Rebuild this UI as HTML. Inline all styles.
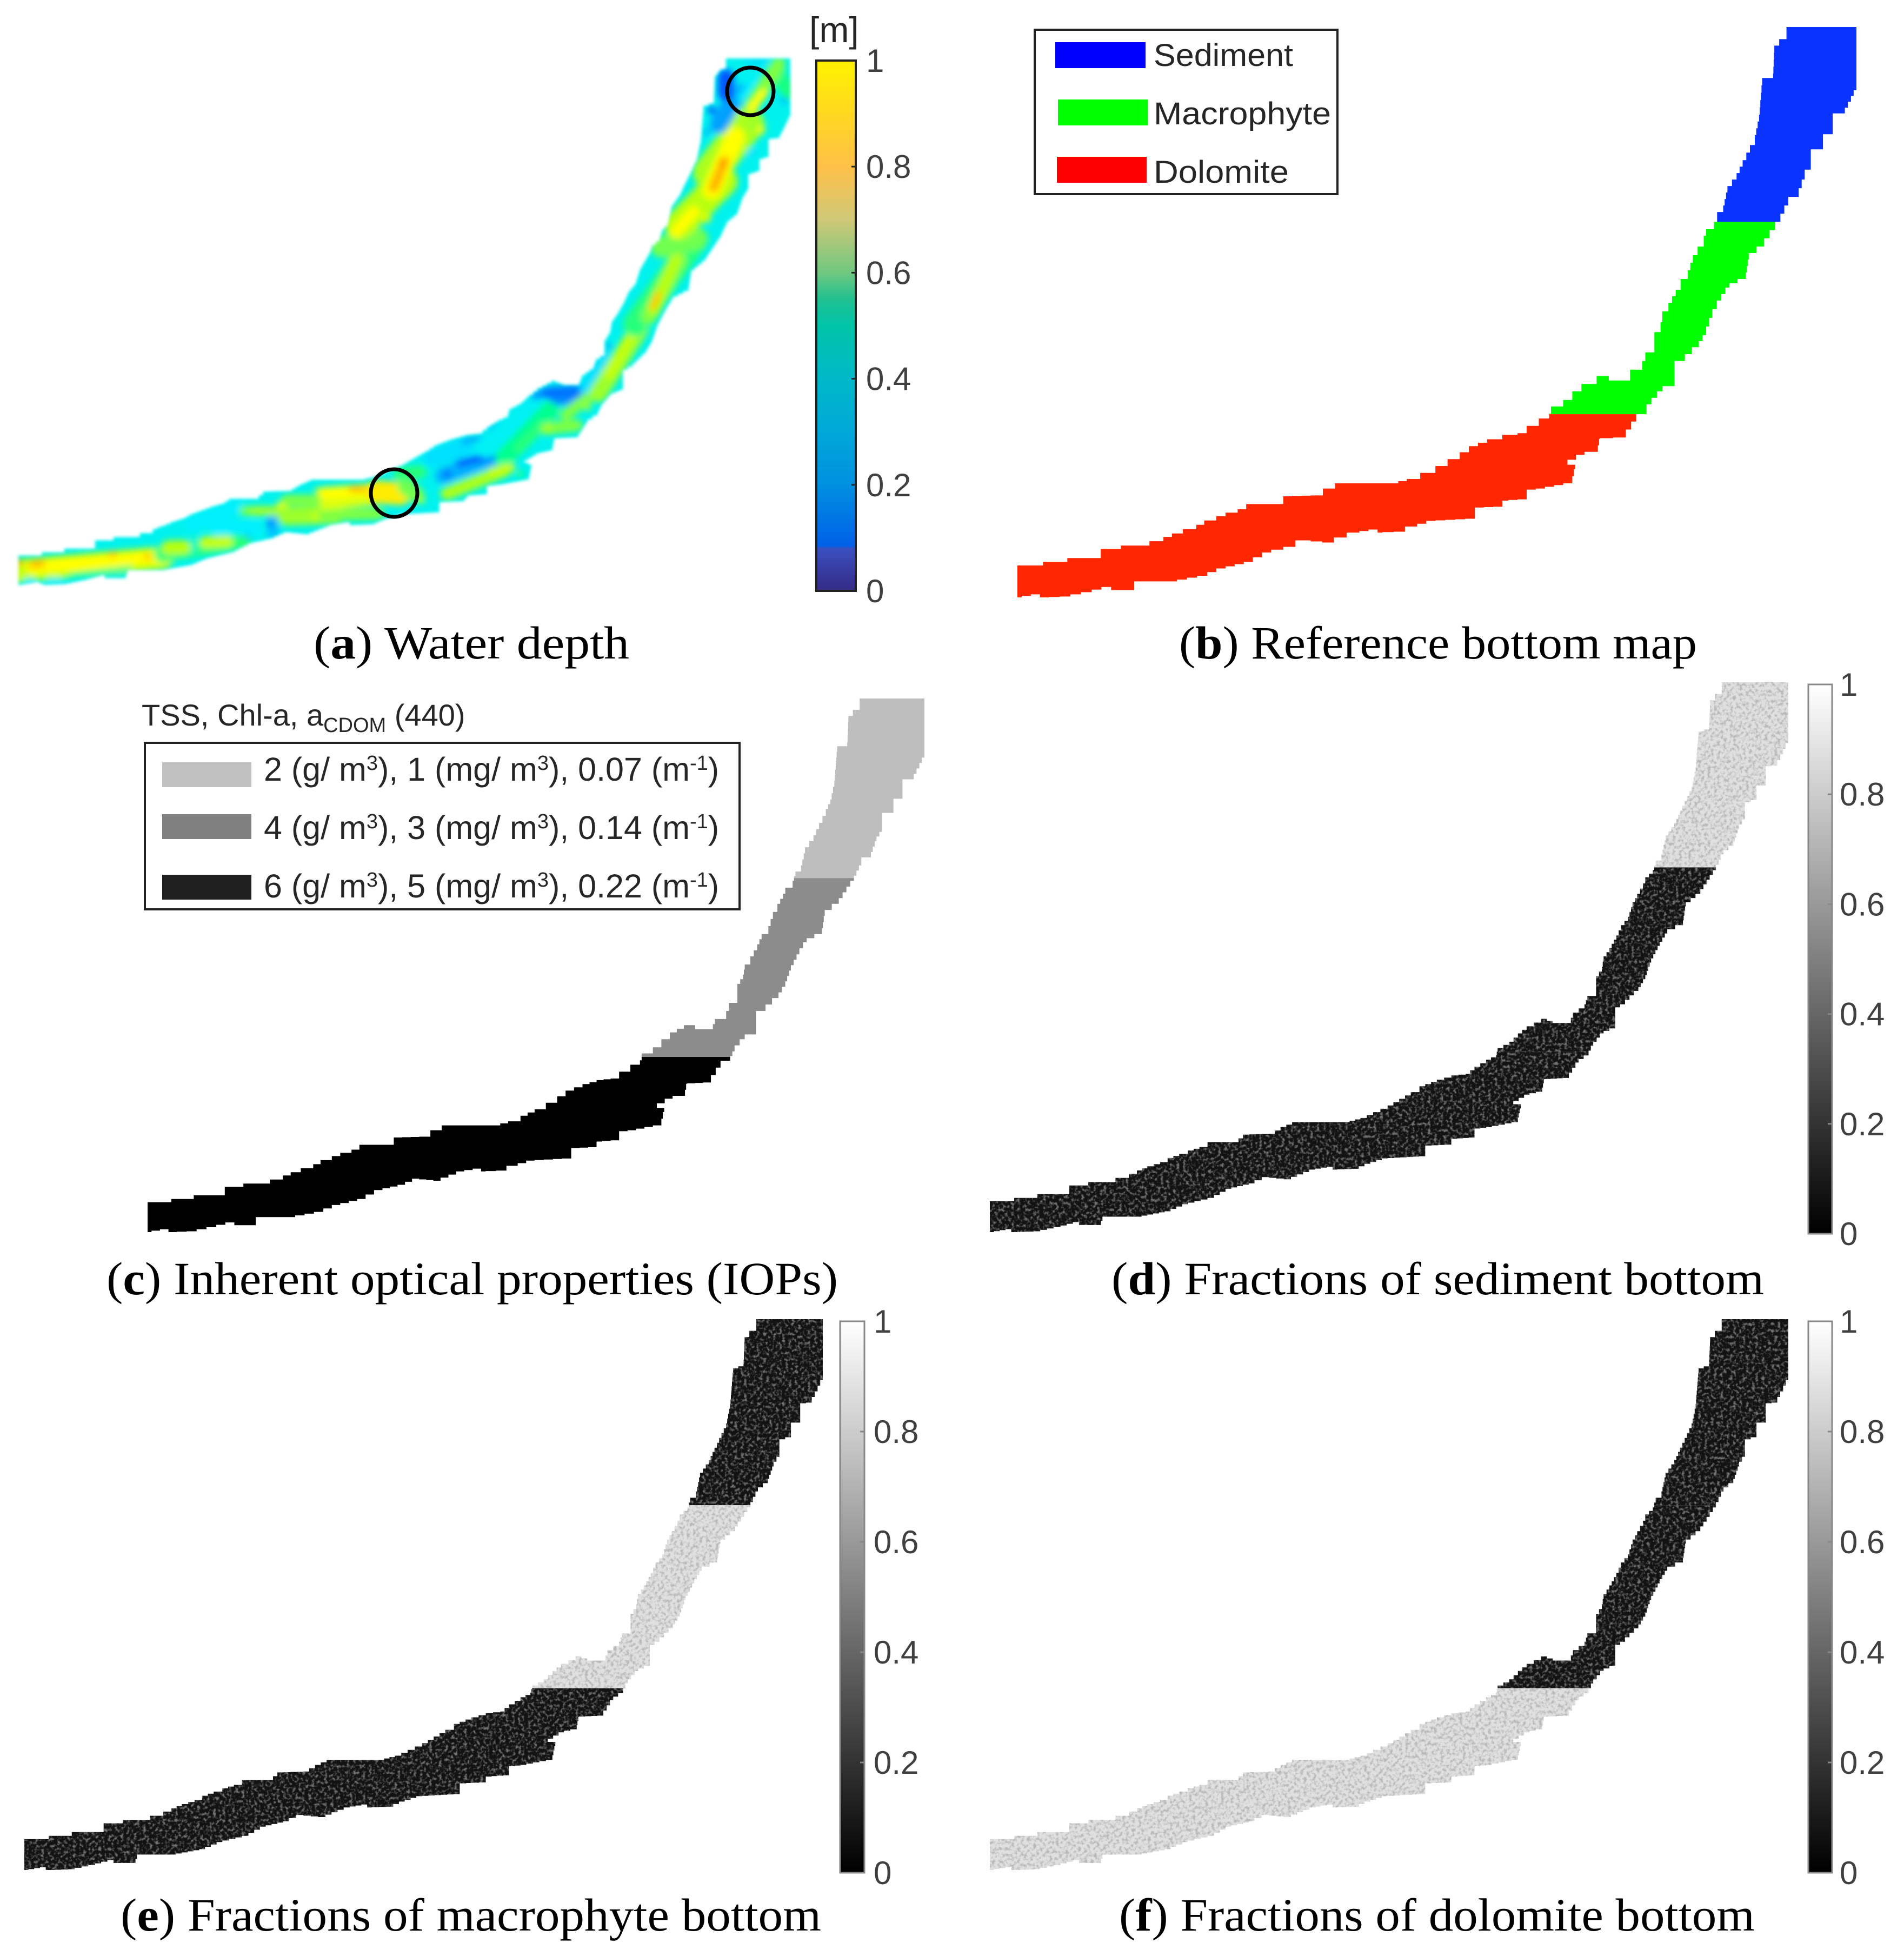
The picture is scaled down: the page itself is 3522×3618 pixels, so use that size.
<!DOCTYPE html>
<html lang="en">
<head>
<meta charset="utf-8">
<title>Water depth and bottom fraction maps</title>
<style>
html,body{margin:0;padding:0;background:#fff}
svg{display:block}
.cap{font-family:"Liberation Serif",serif;font-size:86px;fill:#000}
.leg{font-family:"Liberation Sans",sans-serif;font-size:58px;fill:#262626}
.iop{font-size:61px}
.sup{font-size:38px}
.tick{font-family:"Liberation Sans",sans-serif;font-size:60px;fill:#404040}
</style>
</head>
<body>
<svg id="fig" xmlns="http://www.w3.org/2000/svg" width="3522" height="3618" viewBox="0 0 3522 3618">
<defs>
<filter id="speckle-on-dark" x="0" y="0" width="100%" height="100%" color-interpolation-filters="sRGB">
<feTurbulence type="fractalNoise" baseFrequency="0.17" numOctaves="2" seed="4"/>
<feColorMatrix type="matrix" values="0 0 0 0 0.45 0 0 0 0 0.45 0 0 0 0 0.45 3.4 0 0 0 -1.6"/>
</filter>
<filter id="speckle-on-light" x="0" y="0" width="100%" height="100%" color-interpolation-filters="sRGB">
<feTurbulence type="fractalNoise" baseFrequency="0.17" numOctaves="2" seed="9"/>
<feColorMatrix type="matrix" values="0 0 0 0 0.72 0 0 0 0 0.72 0 0 0 0 0.72 3.4 0 0 0 -1.5"/>
</filter>
<filter id="blur-patch" filterUnits="userSpaceOnUse" x="0" y="0" width="1560" height="1200"><feGaussianBlur stdDeviation="6"/></filter>
<filter id="blur-edge" filterUnits="userSpaceOnUse" x="0" y="0" width="1560" height="1200"><feGaussianBlur stdDeviation="3"/></filter>
<linearGradient id="gray-ramp" x1="0" y1="1" x2="0" y2="0">
<stop offset="0" stop-color="#000"/><stop offset="1" stop-color="#fff"/>
</linearGradient>
</defs>

<g id="panel-a"></g>
<g id="panel-b"></g>
<g id="panel-c"></g>
<g id="panel-d"></g>
<g id="panel-e"></g>
<g id="panel-f"></g>

<text class="leg" x="1497" y="78" style="font-size:66px">[m]</text>

<g>
<rect x="1914" y="55" width="560" height="304" fill="#fff" stroke="#222" stroke-width="4"/>
<rect x="1952" y="78" width="167" height="48" fill="#0000ff"/>
<text class="leg" x="2134" y="122" textLength="258" lengthAdjust="spacingAndGlyphs">Sediment</text>
<rect x="1957" y="184" width="166" height="48" fill="#00ff00"/>
<text class="leg" x="2134" y="230" textLength="328" lengthAdjust="spacingAndGlyphs">Macrophyte</text>
<rect x="1955" y="290" width="166" height="48" fill="#ff0000"/>
<text class="leg" x="2134" y="338" textLength="250" lengthAdjust="spacingAndGlyphs">Dolomite</text>
</g>

<g>
<text class="leg" x="262" y="1342" style="font-size:56px">TSS, Chl-a, a<tspan dy="12" style="font-size:38px">CDOM</tspan><tspan dy="-12"> (440)</tspan></text>
<rect x="268" y="1374" width="1100" height="308" fill="#fff" stroke="#222" stroke-width="4"/>
<rect x="300" y="1410" width="165" height="46" fill="#c0c0c0"/>
<text class="leg iop" x="488" y="1444">2 (g/ m<tspan class="sup" dy="-20">3</tspan><tspan dy="20">), 1 (mg/ m</tspan><tspan class="sup" dy="-20">3</tspan><tspan dy="20">), 0.07 (m</tspan><tspan class="sup" dy="-20">-1</tspan><tspan dy="20">)</tspan></text>
<rect x="300" y="1506" width="165" height="46" fill="#808080"/>
<text class="leg iop" x="488" y="1552">4 (g/ m<tspan class="sup" dy="-20">3</tspan><tspan dy="20">), 3 (mg/ m</tspan><tspan class="sup" dy="-20">3</tspan><tspan dy="20">), 0.14 (m</tspan><tspan class="sup" dy="-20">-1</tspan><tspan dy="20">)</tspan></text>
<rect x="300" y="1618" width="165" height="46" fill="#202020"/>
<text class="leg iop" x="488" y="1660">6 (g/ m<tspan class="sup" dy="-20">3</tspan><tspan dy="20">), 5 (mg/ m</tspan><tspan class="sup" dy="-20">3</tspan><tspan dy="20">), 0.22 (m</tspan><tspan class="sup" dy="-20">-1</tspan><tspan dy="20">)</tspan></text>
</g>

<text class="cap" x="580" y="1218" textLength="584" lengthAdjust="spacingAndGlyphs">(<tspan font-weight="bold">a</tspan>) Water depth</text>
<text class="cap" x="2181" y="1218" textLength="958" lengthAdjust="spacingAndGlyphs">(<tspan font-weight="bold">b</tspan>) Reference bottom map</text>
<text class="cap" x="197" y="2394" textLength="1353" lengthAdjust="spacingAndGlyphs">(<tspan font-weight="bold">c</tspan>) Inherent optical properties (IOPs)</text>
<text class="cap" x="2056" y="2394" textLength="1207" lengthAdjust="spacingAndGlyphs">(<tspan font-weight="bold">d</tspan>) Fractions of sediment bottom</text>
<text class="cap" x="223" y="3571" textLength="1296" lengthAdjust="spacingAndGlyphs">(<tspan font-weight="bold">e</tspan>) Fractions of macrophyte bottom</text>
<text class="cap" x="2070" y="3571" textLength="1176" lengthAdjust="spacingAndGlyphs">(<tspan font-weight="bold">f</tspan>) Fractions of dolomite bottom</text>
</svg>

<script>
// ---- river outline in map units
const outlineX = [108,150,150,190,190,245,245,278,278,325,325,348,348,362,380,402,415,435,450,470,484,530,545,590,610,630,720,748,770,795,815,835,850,880,905,930,945,965,982,985,1005,1020,1035,1060,1080,1108,1115,1135,1140,1155,1155,1165,1168,1178,1190,1198,1210,1218,1226,1236,1240,1253,1258,1268,1275,1290,1300,1312,1320,1327,1332,1350,1352,1360,1372,1372,1487,1487,1478,1468,1448,1448,1432,1432,1412,1412,1402,1392,1375,1362,1335,1310,1305,1278,1265,1250,1240,1228,1205,1188,1188,1168,1150,1142,1125,1108,1066,1062,1040,1012,1025,1020,975,945,945,915,905,860,860,795,765,745,708,700,670,628,590,565,525,495,450,420,370,305,300,270,262,230,195,160,145,115,108];
const outlineY = [1308,1308,1300,1300,1291,1291,1270,1270,1262,1262,1252,1252,1242,1234,1224,1214,1204,1194,1186,1178,1166,1166,1148,1146,1130,1118,1118,1108,1094,1078,1062,1046,1032,1016,1006,1002,985,968,957,940,925,905,888,870,880,880,855,835,815,800,768,745,720,700,670,645,625,590,570,545,530,513,490,475,430,400,370,335,312,265,180,170,105,90,85,62,62,208,235,262,265,310,318,345,355,392,415,455,475,513,570,600,645,665,695,735,775,803,835,850,893,905,935,958,975,1012,1015,1045,1052,1075,1085,1118,1130,1135,1155,1158,1172,1175,1200,1205,1218,1230,1232,1225,1232,1255,1250,1265,1278,1300,1315,1332,1345,1345,1365,1365,1358,1370,1380,1382,1375,1382,1375];

// ---- bottom zones: limits of each zone in map y units
const zoneBreaks = [62, 513, 958, 1382];
const zoneNames = ['sediment', 'macrophyte', 'dolomite'];
const bottomColors = ['#0a33ff', '#00ff00', '#ff2600'];
const iopGray = [190, 140, 0];

// ---- mean fractional cover per zone
const sedimentFractions = [0.88, 0.07, 0.07];
const macrophyteFractions = [0.07, 0.88, 0.07];
const dolomiteFractions = [0.07, 0.07, 0.88];

// ---- colour bar ticks
const tickValues = [0, 0.2, 0.4, 0.6, 0.8, 1];
const tickLabels = ['0', '0.2', '0.4', '0.6', '0.8', '1'];

// ---- printed colour bar palette
const barDepth = [0, 0.08, 0.085, 0.2, 0.3, 0.4, 0.5, 0.55, 0.6, 0.7, 0.8, 0.9, 1];
const barColor = ['#352a87', '#3a50c0', '#0060e8', '#0090e0', '#00a8d8', '#00b8c8', '#00c4a8', '#20c090', '#70c880', '#d0c878', '#ffc048', '#ffd820', '#fff200'];

// ---- palette of the depth raster itself
const mapDepth = [0.1, 0.2, 0.32, 0.45, 0.6, 0.7, 0.82, 0.92, 1];
const mapColor = ['#0030ff', '#0090ff', '#00f0ff', '#00ff90', '#70ff50', '#b8ff10', '#ffff00', '#ffa000', '#ff5000'];

// ---- water depth streaks of panel (a): start/end along the river, width, depth [m]
const baseDepth = 0.34;
const streakE1 = [33,60,33,60,205,272,50,92,130,300,311,380,359,357,403,505,500,458,452,470,517,530,586,582,548,530,600,650,600,617,600,697,750,780,740,800,820,827,850,857,907,900,933,960,990,1030,1013,827,910,963,1010,1013,1047,1087,1083,1107,1127,1127,1175,1200,1210,1207,1223,1257,1250,1307,1313,1317,1320,1337,1400,1407,1390,1330,1317,1343,1307,1370,1367,1383,1440,1387,1390,1450];
const streakN1 = [1056,1050,1041,1044,1025,1030,1074,1074,1065,1025,1013,1003,993,970,977,960,968,992,945,945,933,955,907,955,923,925,913,905,953,935,935,910,900,925,877,847,880,877,857,817,793,827,847,830,733,737,727,913,873,877,793,793,767,753,717,727,694,641,600,585,572,568,457,416,429,404,319,351,347,302,233,241,282,230,204,143,245,168,184,114,140,200,200,186];
const streakE2 = [300,300,40,78,212,274,60,110,240,450,340,420,359,437,472,505,500,458,500,520,530,620,620,620,548,600,683,680,700,617,690,740,770,780,777,860,930,827,913,893,940,983,1017,1000,1013,1070,1073,933,945,963,1067,1013,1107,1087,1120,1183,1173,1127,1283,1255,1250,1217,1290,1337,1283,1307,1383,1360,1340,1337,1400,1407,1390,1360,1317,1343,1307,1370,1397,1417,1460,1440,1413,1450];
const streakN2 = [1032,1030,1041,1042,1025,1030,1074,1074,1050,1000,1012,1002,1020,937,977,985,968,992,945,945,933,952,905,952,923,925,907,905,950,935,925,913,915,925,873,827,840,877,843,810,777,757,760,790,723,737,723,870,865,877,787,793,720,753,663,608,612,641,449,480,478,545,441,335,392,404,229,253,298,302,233,241,282,180,204,172,245,168,143,114,170,119,172,186];
const streakW = [42,24,8,12,10,12,10,10,8,30,26,22,10,28,26,22,12,8,18,18,10,34,8,12,14,20,24,10,22,10,18,42,30,12,25,35,30,14,14,8,10,40,35,18,14,24,22,24,16,14,22,14,22,12,22,34,18,10,45,30,22,12,40,55,22,16,62,36,18,10,30,16,16,34,14,30,10,26,10,12,30,26,16,14];
const streakD = [0.72,0.82,0.93,0.9,0.88,0.88,0.32,0.32,0.46,0.5,0.7,0.72,0.38,0.32,0.32,0.26,0.16,0.2,0.6,0.66,0.82,0.66,0.8,0.74,0.44,0.62,0.82,0.9,0.62,0.48,0.76,0.84,0.6,0.7,0.5,0.3,0.24,0.15,0.15,0.2,0.25,0.33,0.45,0.5,0.2,0.2,0.17,0.68,0.72,0.46,0.62,0.68,0.62,0.7,0.3,0.66,0.72,0.2,0.5,0.62,0.7,0.88,0.6,0.7,0.82,0.78,0.68,0.82,0.9,0.96,0.66,0.8,0.3,0.22,0.12,0.14,0.2,0.24,0.32,0.3,0.48,0.62,0.82,0.26];

// ---- mark circles in panel (a)
const circleE = [1388, 729];
const circleN = [169, 912];

const NS = 'http://www.w3.org/2000/svg';
const root = document.getElementById('fig');
const defs = root.querySelector('defs');

function make(tag, attrs, parent) {
  const el = document.createElementNS(NS, tag);
  for (const k in attrs) el.setAttribute(k, attrs[k]);
  if (parent) parent.appendChild(el);
  return el;
}
function hex(c) { return [1, 3, 5].map(function (i) { return parseInt(c.substr(i, 2), 16); }); }
function ramp(v, stops, colors) {
  let i = 0;
  while (i < stops.length - 2 && v > stops[i + 1]) i++;
  const t = Math.max(0, Math.min(1, (v - stops[i]) / (stops[i + 1] - stops[i])));
  const a = hex(colors[i]), b = hex(colors[i + 1]);
  return 'rgb(' + a.map(function (c, j) { return Math.round(c + (b[j] - c) * t); }).join(',') + ')';
}
function grayOf(v) { const g = Math.round(v * 255); return 'rgb(' + g + ',' + g + ',' + g + ')'; }

function mapScale(box) {
  return {
    x: function (u) { return box.x0 + (u - 108) / 1379 * (box.x1 - box.x0); },
    y: function (v) { return box.y0 + (v - 62) / 1320 * (box.y1 - box.y0); }
  };
}
function blockyPoints(sc, step) {
  const pts = [];
  const n = outlineX.length;
  for (let i = 0; i < n; i++) {
    const x1 = outlineX[i], y1 = outlineY[i];
    const x2 = outlineX[(i + 1) % n], y2 = outlineY[(i + 1) % n];
    const cnt = Math.max(1, Math.round(Math.max(Math.abs(x2 - x1), Math.abs(y2 - y1)) / step));
    for (let k = 0; k < cnt; k++) {
      const xa = x1 + (x2 - x1) * k / cnt, ya = y1 + (y2 - y1) * k / cnt;
      const xb = x1 + (x2 - x1) * (k + 1) / cnt;
      pts.push(sc.x(xa).toFixed(1) + ',' + sc.y(ya).toFixed(1));
      pts.push(sc.x(xb).toFixed(1) + ',' + sc.y(ya).toFixed(1));
    }
  }
  return pts.join(' ');
}
function riverClip(id, pts) {
  const cp = make('clipPath', { id: id }, defs);
  make('polygon', { points: pts }, cp);
}

function colorBar(parent, box, fillRef, labelX, name) {
  const y = function (v) { return box.y1 - v * (box.y1 - box.y0); };
  const bar = make('rect', { x: box.x0, y: box.y0, width: box.x1 - box.x0, height: box.y1 - box.y0, fill: fillRef, stroke: box.stroke, 'stroke-width': box.sw }, parent);
  
  
  tickValues.forEach(function (v, i) {
    if (v > 0 && v < 1) {
      const t = make('line', { x1: box.x1 - 8, x2: box.x1, y1: y(v), y2: y(v), stroke: box.stroke, 'stroke-width': 3 }, parent);
      
      
    }
    const lab = make('text', { x: labelX, y: y(v) + 21, class: 'tick' }, parent);
    lab.textContent = tickLabels[i];
    
    
  });
}

function zonedRiver(panelId, box, zoneFill, speckled, fractions) {
  const parent = document.getElementById(panelId);
  const sc = mapScale(box);
  const shift = box.breakShift || [0, 0];
  riverClip(panelId + '-clip', blockyPoints(sc, box.step));
  const g = make('g', { 'clip-path': 'url(#' + panelId + '-clip)' }, parent);
  
  
  zoneNames.forEach(function (z, i) {
    const y0 = sc.y(zoneBreaks[i]) + (i > 0 ? shift[i - 1] : 0);
    const y1 = sc.y(zoneBreaks[i + 1]) + (i < 2 ? shift[i] : 0);
    const r = make('rect', { x: box.x0 - 10, y: y0, width: box.x1 - box.x0 + 20, height: y1 - y0, fill: zoneFill(i) }, g);
    
    
    if (speckled) {
      const light = fractions[i] > 0.5;
      const s = make('rect', { x: box.x0 - 10, y: y0, width: box.x1 - box.x0 + 20, height: y1 - y0, fill: '#000', filter: 'url(#' + (light ? 'speckle-on-light' : 'speckle-on-dark') + ')' }, g);
      
      
    }
  });
}

// ---- panel (a)
(function () {
  const sc = mapScale({ x0: 34, x1: 1462, y0: 108, y1: 1082 });
  const ex = function (e) { return e; };
  const ny = function (n) { return n; };
  const parent = document.getElementById('panel-a');
  const mask = make('mask', { id: 'depth-mask', maskUnits: 'userSpaceOnUse', x: 0, y: 0, width: 1560, height: 1200 }, defs);
  make('polygon', { points: blockyPoints(sc, 8), fill: '#fff', filter: 'url(#blur-edge)' }, mask);
  const g = make('g', { mask: 'url(#depth-mask)' }, parent);
  
  
  const base = make('rect', { x: 0, y: 60, width: 1500, height: 1100, fill: ramp(baseDepth, mapDepth, mapColor) }, g);
  
  
  const streaks = make('g', { filter: 'url(#blur-patch)' }, g);
  
  
  streakE1.forEach(function (e, i) {
    const l = make('line', { x1: ex(e), y1: ny(streakN1[i]), x2: ex(streakE2[i]), y2: ny(streakN2[i]), stroke: ramp(streakD[i], mapDepth, mapColor), 'stroke-width': streakW[i], 'stroke-linecap': 'round' }, streaks);
    
    
  });
  circleE.forEach(function (e, i) {
    const c = make('ellipse', { cx: ex(e), cy: ny(circleN[i]), rx: 43, ry: 44, fill: 'none', stroke: '#000', 'stroke-width': 7 }, parent);
    
    
  });
  const grad = make('linearGradient', { id: 'depth-ramp', x1: 0, y1: 1, x2: 0, y2: 0 }, defs);
  barDepth.forEach(function (v, i) { make('stop', { offset: v, 'stop-color': barColor[i] }, grad); });
  colorBar(parent, { x0: 1510, x1: 1583, y0: 112, y1: 1093, stroke: '#222', sw: 4 }, 'url(#depth-ramp)', 1602, 'depth');
})();

// ---- panel (b)
zonedRiver('panel-b', { x0: 1882, x1: 3434, y0: 50, y1: 1105, step: 17 }, function (i) { return bottomColors[i]; }, false);

// ---- panel (c)
zonedRiver('panel-c', { x0: 273, x1: 1710, y0: 1292, y1: 2279, breakShift: [-5, -7], step: 15 }, function (i) { return grayOf(iopGray[i] / 255); }, false);

// ---- fraction panels
zonedRiver('panel-d', { x0: 1831, x1: 3308, y0: 1262, y1: 2279, breakShift: [-5, -7], step: 11 }, function (i) { return grayOf(sedimentFractions[i]); }, true, sedimentFractions);
colorBar(document.getElementById('panel-d'), { x0: 3345, x1: 3389, y0: 1266, y1: 2282, stroke: '#888', sw: 3 }, 'url(#gray-ramp)', 3403, 'sediment');

zonedRiver('panel-e', { x0: 45, x1: 1522, y0: 2440, y1: 3459, breakShift: [-4, -9], step: 11 }, function (i) { return grayOf(macrophyteFractions[i]); }, true, macrophyteFractions);
colorBar(document.getElementById('panel-e'), { x0: 1554, x1: 1599, y0: 2444, y1: 3464, stroke: '#888', sw: 3 }, 'url(#gray-ramp)', 1616, 'macrophyte');

zonedRiver('panel-f', { x0: 1831, x1: 3308, y0: 2440, y1: 3459, breakShift: [-4, -9], step: 11 }, function (i) { return grayOf(dolomiteFractions[i]); }, true, dolomiteFractions);
colorBar(document.getElementById('panel-f'), { x0: 3345, x1: 3389, y0: 2444, y1: 3464, stroke: '#888', sw: 3 }, 'url(#gray-ramp)', 3403, 'dolomite');
</script>
</body>
</html>
